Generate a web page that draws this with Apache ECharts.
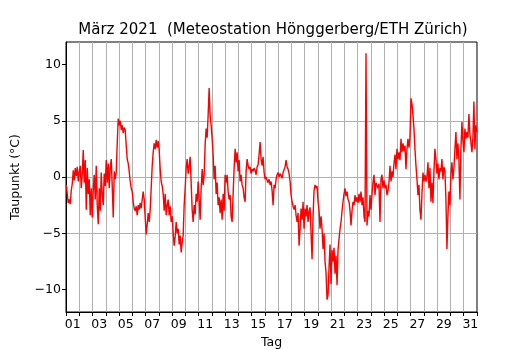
<!DOCTYPE html>
<html><head><meta charset="utf-8">
<script src="https://cdn.jsdelivr.net/npm/echarts@6/dist/echarts.min.js"></script>
<style>html,body{margin:0;padding:0;background:#fff}#c{width:530px;height:350px}</style>
</head><body><div id="c"></div>
<script>
const titleText = 'März 2021  (Meteostation Hönggerberg/ETH Zürich)';
const xAxisName = 'Tag';
const yAxisName = 'Taupunkt (°C)';
const xLabelDays = [1,3,5,7,9,11,13,15,17,19,21,23,25,27,29,31];
const yTickValues = [-10,-5,0,5,10];
const firstSampleDay = 0.02;
const sampleStepDays = 0.07536;
const dewPoint = [
 -0.7,-1.5,-2.3,-2.0,-2.4,-1.2,-0.6,0.6,-0.3,0.8,0.1,0.9,-0.4,0.5,1.0,-1.0,0.3,2.4,-0.5,1.5,
 -2.9,0.8,-1.5,-0.2,-3.4,-1.0,-3.6,-1.2,0.2,-2.0,1.0,-2.5,-4.2,-1.0,-3.0,0.4,-1.5,-2.5,0.3,-0.8,
 1.5,-0.5,1.2,-1.0,0.8,1.6,-0.8,-3.6,0.5,-0.2,0.4,3.0,5.2,4.6,5.0,4.2,4.6,3.9,
 4.4,4.2,2.8,1.6,1.2,0.5,-0.4,-1.0,-1.3,-2.2,-2.8,-3.0,-2.6,-3.4,-2.5,-2.9,-2.3,-2.8,-2.0,-1.3,
 -2.0,-3.6,-5.1,-4.2,-3.2,-4.0,-2.9,-1.0,1.0,2.2,3.0,2.5,3.3,2.6,3.2,2.4,0.7,-0.4,-0.8,-1.5,
 -3.0,-1.5,-3.4,-2.5,-2.0,-3.4,-2.6,-4.0,-3.5,-5.0,-6.1,-5.3,-4.0,-5.0,-4.6,-6.0,-5.2,-6.7,-5.8,
 -5.2,-2.5,-1.0,0.8,1.6,0.3,1.0,1.8,-0.5,-2.9,-4.0,-2.5,-3.3,-1.5,-2.2,-0.4,-2.0,-3.8,-1.0,0.7,
 -0.7,0.2,2.9,4.3,3.5,5.5,7.9,5.5,4.6,3.4,2.0,-0.2,1.0,-1.5,-0.5,-2.5,-1.8,-3.2,-2.0,-3.8,
 -1.5,-3.0,0.2,-0.5,0.2,-1.3,-2.0,-1.6,-3.5,-4.0,-1.5,0.8,2.5,1.3,2.2,0.5,1.5,-0.4,0.2,-0.7,
 -1.0,-1.8,-2.2,0.5,1.6,1.0,0.7,0.9,0.3,0.7,0.5,0.8,0.6,0.2,0.9,1.1,2.0,3.1,1.6,1.0,
 1.8,0.4,-0.2,0.0,-0.3,-0.5,-0.2,-0.7,-0.4,-1.2,-2.5,-0.7,-1.0,-0.2,0.2,0.4,0.0,0.3,0.2,-0.1,
 0.4,0.3,0.9,1.5,0.9,0.7,0.3,-0.4,-1.6,-2.2,-2.6,-2.9,-2.5,-3.4,-4.0,-3.2,-6.1,-4.6,
 -2.8,-3.8,-2.2,-4.6,-2.8,-3.5,-2.5,-4.0,-3.0,-2.7,-5.0,-7.3,-3.5,-1.2,-0.7,-1.0,-0.8,-2.2,-3.0,-4.6,
 -3.5,-4.6,-6.4,-5.0,-7.5,-8.5,-10.9,-10.5,-8.0,-6.0,-9.5,-6.5,-7.5,-6.3,-8.6,-7.0,-9.6,-6.5,-5.5,-4.6,
 -4.0,-3.0,-2.2,-1.5,-1.0,-1.7,-1.3,-2.0,-2.2,-3.0,-4.3,-3.0,-2.2,-2.5,-1.6,-2.2,-1.8,-2.3,-1.5,-2.2,
 -1.3,-2.5,-1.8,-3.5,-4.0,11.0,-4.3,-3.0,-3.5,-1.6,-2.9,-1.5,-0.5,0.2,-1.6,-0.5,-0.4,-1.0,-0.6,-4.0,
 -0.2,0.2,-1.0,-0.3,-1.0,-0.7,-1.6,-1.2,-0.5,1.0,-0.4,0.5,0.0,1.2,2.0,0.7,2.5,1.6,2.2,1.5,
 3.4,2.2,3.0,2.3,2.8,0.7,2.5,3.4,2.6,3.5,7.0,6.5,5.5,4.3,2.5,1.0,-0.2,-1.6,-0.7,
 -2.9,-3.8,-1.5,0.4,-0.4,0.2,-0.4,0.0,1.3,-1.0,0.8,-2.2,-0.5,-2.3,0.5,2.5,1.6,0.3,1.2,-0.2,
 0.8,0.5,1.6,-0.2,0.9,0.5,-2.0,-6.4,-3.4,-1.3,-2.5,0.3,1.3,-0.2,0.8,2.5,4.0,1.6,3.0,1.5,
 -2.0,2.5,4.9,3.2,2.2,4.3,3.4,4.0,3.5,5.6,3.8,3.1,2.2,3.5,6.7,2.5,4.6,4.0
];
const seriesData = dewPoint.map((v, i) => [firstSampleDay + i * sampleStepDays, v]);

const FONT = 'DejaVu Sans';
const chart = echarts.init(document.getElementById('c'), null, {renderer: 'canvas'});
chart.setOption({
  animation: false,
  backgroundColor: '#fff',
  title: {
    text: titleText, left: 268, top: 18, textAlign: 'center',
    textStyle: {fontFamily: FONT, fontSize: 15, fontWeight: 'normal', color: '#000'}
  },
  grid: {left: 66, right: 53, top: 42, bottom: 38, outerBoundsMode: 'none', containLabel: false,
         show: true, borderColor: '#000', borderWidth: 1, backgroundColor: 'transparent'},
  xAxis: {
    type: 'value', min: 0, max: 31, interval: 1,
    axisLine: {show: true, onZero: false, lineStyle: {color: '#000', width: 1}},
    axisTick: {show: true, length: 4, lineStyle: {color: '#000', width: 1}},
    axisLabel: {
      customValues: xLabelDays.map(d => d - 0.5),
      formatter: v => String(Math.round(v + 0.5)).padStart(2, '0'),
      color: '#000', fontFamily: FONT, fontSize: 12.5, margin: 6
    },
    splitLine: {show: true, showMinLine: false, showMaxLine: false, lineStyle: {color: '#b0b0b0', width: 1}},
    name: xAxisName, nameLocation: 'middle', nameGap: 24,
    nameTextStyle: {fontFamily: FONT, fontSize: 12.5, color: '#000'}
  },
  yAxis: {
    type: 'value', min: -12, max: 12,
    axisLine: {show: true, onZero: false, lineStyle: {color: '#000', width: 1}},
    axisTick: {show: true, length: 4, customValues: yTickValues, lineStyle: {color: '#000', width: 1}},
    axisLabel: {
      customValues: yTickValues,
      formatter: v => String(v).replace('-', '\u2212'),
      color: '#000', fontFamily: FONT, fontSize: 12.5, margin: 5
    },
    splitLine: {show: true, showMinLine: false, showMaxLine: false, lineStyle: {color: '#b0b0b0', width: 1}},
    name: yAxisName, nameLocation: 'middle', nameGap: 44, nameRotate: 90,
    nameTextStyle: {fontFamily: FONT, fontSize: 12.5, color: '#000'}
  },
  series: [{
    type: 'line', data: seriesData, showSymbol: false, symbol: 'none',
    lineStyle: {color: '#ff0000', width: 1.4}, clip: true, z: 5
  }]
});
</script>
</body></html>
